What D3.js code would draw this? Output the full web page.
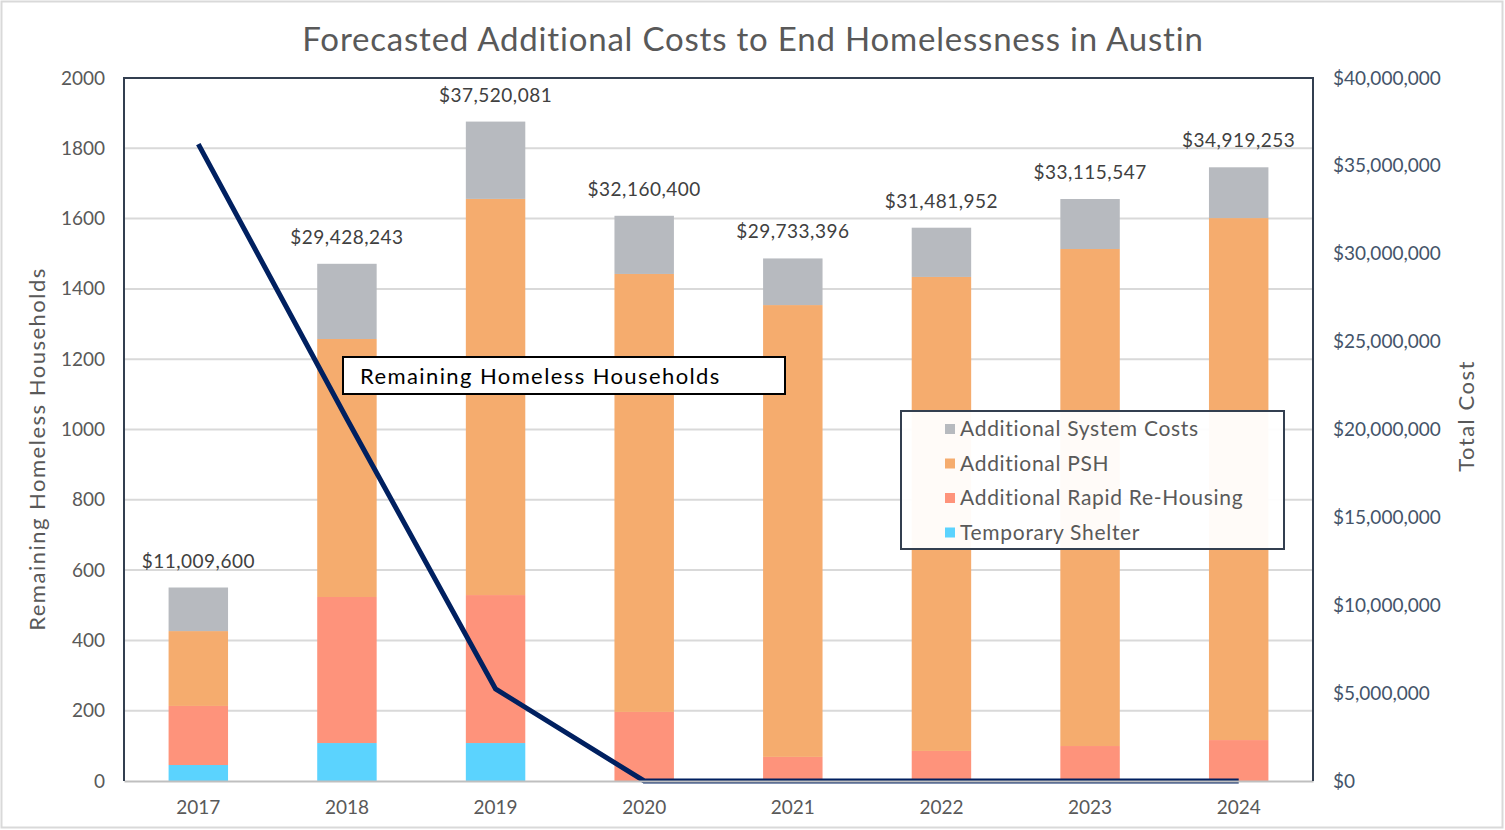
<!DOCTYPE html>
<html>
<head>
<meta charset="utf-8">
<script src="https://cdn.jsdelivr.net/npm/d3@7"></script>
<style>
  body { margin: 0; background: #fff; }
  text { font-family: "Lato", "Noto Sans", sans-serif; }
</style>
</head>
<body>
<div id="chart"></div>
<script>
// years on the x axis
var years = ["2017", "2018", "2019", "2020", "2021", "2022", "2023", "2024"];

// cost pieces (dollars)
var temporaryShelter = [910000, 2160000, 2160000, 0, 0, 0, 0, 0];
var rapidRehousing   = [3360000, 8310000, 8420000, 3930000, 1370000, 1710000, 1990000, 2330000];
var additionalPSH    = [4260000, 14680000, 22540000, 24920000, 25710000, 26970000, 28280000, 29700000];
var systemCosts      = [2479600, 4278243, 4400081, 3310400, 2653396, 2801952, 2845547, 2889253];

// totals printed over the bars
var totalCosts = [11009600, 29428243, 37520081, 32160400, 29733396, 31481952, 33115547, 34919253];

// remaining homeless households (left axis)
var households = [1812, 1030, 262, 0, 0, 0, 0, 0];

var seriesNames = ["Temporary Shelter", "Additional Rapid Re-Housing", "Additional PSH", "Additional System Costs"];
var seriesColors = ["#5bd3fe", "#fe937b", "#f5ac6e", "#b7babf"];

var W = 1505, H = 830;
var margin = {top: 78, right: 192, bottom: 49, left: 124};
var width = W - margin.left - margin.right,
    height = H - margin.top - margin.bottom;

var svgRoot = d3.select("#chart").append("svg")
    .attr("width", W).attr("height", H);

// outer chart border
svgRoot.append("rect")
    .attr("x", 1.5).attr("y", 1.5).attr("width", W - 4).attr("height", H - 4)
    .attr("fill", "#fff").attr("stroke", "#d9d9d9").attr("stroke-width", 2);

svgRoot.append("text")
    .attr("x", 753).attr("y", 51)
    .attr("text-anchor", "middle")
    .style("font-size", "33px")
    .style("letter-spacing", "0.8px")
    .style("fill", "#595959")
    .text("Forecasted Additional Costs to End Homelessness in Austin");

var svg = svgRoot.append("g")
    .attr("transform", "translate(" + margin.left + "," + margin.top + ")");

var x = d3.scaleBand().domain(years).range([0, width]).paddingInner(0.6).paddingOuter(0.3);
var yLeft = d3.scaleLinear().domain([0, 2000]).range([height, 0]);
var yRight = d3.scaleLinear().domain([0, 40000000]).range([height, 0]);

// gridlines
svg.append("g")
    .selectAll("line")
    .data(d3.range(200, 2001, 200))
    .enter().append("line")
    .attr("x1", 0).attr("x2", width)
    .attr("y1", function(d) { return yLeft(d); })
    .attr("y2", function(d) { return yLeft(d); })
    .attr("stroke", "#d9d9d9").attr("stroke-width", 2);

// stack the cost pieces
var rows = years.map(function(yr, i) {
    return {year: yr, s0: temporaryShelter[i], s1: rapidRehousing[i], s2: additionalPSH[i], s3: systemCosts[i]};
});
var stack = d3.stack().keys(["s0", "s1", "s2", "s3"])(rows);

svg.append("g").selectAll("g")
    .data(stack)
    .enter().append("g")
    .attr("fill", function(d, i) { return seriesColors[i]; })
    .selectAll("rect")
    .data(function(d) { return d; })
    .enter().append("rect")
    .attr("x", function(d) { return x(d.data.year); })
    .attr("width", x.bandwidth())
    .attr("y", function(d) { return yRight(d[1]); })
    .attr("height", function(d) { return yRight(d[0]) - yRight(d[1]); });

// total labels
svg.append("g").selectAll("text")
    .data(totalCosts)
    .enter().append("text")
    .attr("x", function(d, i) { return x(years[i]) + x.bandwidth() / 2; })
    .attr("y", function(d) { return yRight(d) - 20; })
    .attr("text-anchor", "middle")
    .style("font-size", "19px")
    .style("letter-spacing", "0.5px")
    .style("fill", "#404040")
    .text(function(d) { return "$" + d3.format(",")(d); });

// households line
var line = d3.line()
    .x(function(d, i) { return x(years[i]) + x.bandwidth() / 2; })
    .y(function(d) { return yLeft(d); });

svg.append("path")
    .datum(households)
    .attr("d", line)
    .attr("fill", "none")
    .attr("stroke", "#002060")
    .attr("stroke-width", 5);

// axes
var leftAxis = svg.append("g")
    .call(d3.axisLeft(yLeft).tickValues(d3.range(0, 2001, 200)).tickSize(0).tickPadding(19)
        .tickFormat(d3.format("d")));
leftAxis.select(".domain").remove();
leftAxis.selectAll("text").style("font-size", "19px").style("fill", "#595959");

var rightAxis = svg.append("g")
    .attr("transform", "translate(" + width + ",0)")
    .call(d3.axisRight(yRight).ticks(8).tickSize(0).tickPadding(20)
        .tickFormat(function(d) { return "$" + d3.format(",")(d); }));
rightAxis.select(".domain").remove();
rightAxis.selectAll("text").style("font-size", "19px").style("fill", "#44546a");

var bottomAxis = svg.append("g")
    .attr("transform", "translate(0," + height + ")")
    .call(d3.axisBottom(x).tickSize(0).tickPadding(20));
bottomAxis.select(".domain").attr("stroke", "#bfbfbf").attr("stroke-width", 2);
bottomAxis.selectAll("text").style("font-size", "19px").style("fill", "#595959");

// plot frame: left, top, right in dark slate
svg.append("path")
    .attr("d", "M0," + height + "V0H" + width + "V" + height)
    .attr("fill", "none")
    .attr("stroke", "#333f50")
    .attr("stroke-width", 2);

// axis titles
svgRoot.append("text")
    .attr("transform", "translate(45,449) rotate(-90)")
    .attr("text-anchor", "middle")
    .style("font-size", "22px")
    .style("letter-spacing", "1.5px")
    .style("fill", "#595959")
    .text("Remaining Homeless Households");

svgRoot.append("text")
    .attr("transform", "translate(1474,416) rotate(-90)")
    .attr("text-anchor", "middle")
    .style("font-size", "22px")
    .style("letter-spacing", "1.5px")
    .style("fill", "#595959")
    .text("Total Cost");

// line label box
svgRoot.append("rect")
    .attr("x", 343).attr("y", 357).attr("width", 442).attr("height", 37)
    .attr("fill", "#fff").attr("stroke", "#000").attr("stroke-width", 2);
svgRoot.append("text")
    .attr("x", 360).attr("y", 384)
    .style("font-size", "22px")
    .style("letter-spacing", "1.4px")
    .style("fill", "#000")
    .text("Remaining Homeless Households");

// legend
var legend = svgRoot.append("g");
legend.append("rect")
    .attr("x", 901).attr("y", 411).attr("width", 383).attr("height", 138)
    .attr("fill", "#fff").attr("fill-opacity", 0.95)
    .attr("stroke", "#333f50").attr("stroke-width", 2);

var legendOrder = [3, 2, 1, 0];
var item = legend.selectAll(".item")
    .data(legendOrder)
    .enter().append("g")
    .attr("transform", function(d, i) { return "translate(945," + (429 + i * 34.5) + ")"; });
item.append("rect")
    .attr("x", 0).attr("y", -5).attr("width", 10).attr("height", 10)
    .attr("fill", function(d) { return seriesColors[d]; });
item.append("text")
    .attr("x", 15).attr("y", 7)
    .style("font-size", "21px")
    .style("letter-spacing", "0.7px")
    .style("fill", "#595959")
    .text(function(d) { return seriesNames[d]; });
</script>
</body>
</html>
